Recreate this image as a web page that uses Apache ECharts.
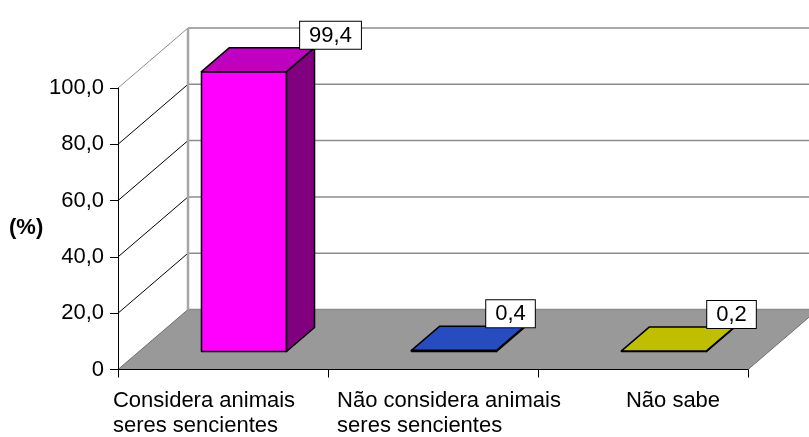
<!DOCTYPE html>
<html><head><meta charset="utf-8">
<script src="https://cdn.jsdelivr.net/npm/echarts@6/dist/echarts.min.js"></script>
<style>html,body{margin:0;padding:0;background:#fff}#c{width:809px;height:437px}</style>
</head><body><div id="c"></div>
<script>
// ---- data ----
const CATEGORIES = ['Considera animais\nseres sencientes', 'Não considera animais\nseres sencientes', 'Não sabe'];
const VALUES = [99.4, 0.4, 0.2];
const VALUE_LABELS = ['99,4', '0,4', '0,2'];
const Y_TICKS = [0, 20, 40, 60, 80, 100];
const Y_TICK_LABELS = ['0', '20,0', '40,0', '60,0', '80,0', '100,0'];
const Y_NAME = '(%)';

// ---- style ----
const FONT = "'Liberation Sans', Arial, sans-serif";
const FS = 22;
const BAR_COLORS = [
  ['#FF00FF', '#C000C0', '#800080'],
  ['#3366FF', '#264CBF', '#1A3380'],
  ['#FFFF00', '#BFBF00', '#808000']
];
const DX = 70, DY = 60;              // 3D depth offset of the floor
const DEPTH_FRONT = 0.3, DEPTH_BACK = 0.7;
const BAR_WIDTH = 0.405;
// per-label horizontal padding [left, right] used to nudge the category labels
const X_LABEL_PAD = [[0, 38], [32, 0], [60, 0]];
// horizontal nudge of each value label box relative to its bar's back corner
const VALUE_LABEL_NUDGE = [16, -14, -3];

const chart = echarts.init(document.getElementById('c'), null, {renderer: 'canvas'});

function renderFrame(params, api) {
  const cs = params.coordSys;
  const x0 = cs.x, x1 = cs.x + cs.width;
  const yOf = v => api.coord([0, v])[1];
  const y0 = yOf(Y_TICKS[0]);
  const yTop = yOf(Y_TICKS[Y_TICKS.length - 1]);
  const ch = [];
  ch.push({type: 'polygon', shape: {points: [[x0, y0], [x0 + DX, y0 - DY], [x1 + DX, y0 - DY], [x1, y0]]},
    style: {fill: '#999999', stroke: '#707070', lineWidth: 1}});
  Y_TICKS.forEach((v, k) => {
    const y = yOf(v);
    ch.push({type: 'line', shape: {x1: x0 + DX, y1: y - DY, x2: x1 + DX + 20, y2: y - DY},
      style: {stroke: '#8c8c8c', lineWidth: 1.5}});
    if (k > 0) {
      ch.push({type: 'line', shape: {x1: x0, y1: y, x2: x0 + DX, y2: y - DY},
        style: {stroke: k === Y_TICKS.length - 1 ? '#8c8c8c' : '#000', lineWidth: 1}});
    }
  });
  ch.push({type: 'line', shape: {x1: x0 + DX, y1: y0 - DY, x2: x0 + DX, y2: yTop - DY},
    style: {stroke: '#a6a6a6', lineWidth: 2.5}});
  return {type: 'group', children: ch};
}

function barGeom(api) {
  const i = api.value(0), v = api.value(1);
  const c = api.coord([i, 0]);
  const t = api.coord([i, v]);
  const band = api.size([1, 0])[0];
  const hw = band * BAR_WIDTH / 2;
  return {i, xl: c[0] - hw, xr: c[0] + hw, yb: c[1], yt: t[1],
    fx: DX * DEPTH_FRONT, fy: DY * DEPTH_FRONT, bx: DX * DEPTH_BACK, by: DY * DEPTH_BACK};
}

function renderBar(params, api) {
  const g = barGeom(api);
  const col = BAR_COLORS[g.i];
  const st = fill => ({fill, stroke: '#000', lineWidth: 1.5, lineJoin: 'round'});
  const {xl, xr, yb, yt, fx, fy, bx, by} = g;
  return {type: 'group', children: [
    {type: 'polygon', shape: {points: [[xl + fx, yt - fy], [xr + fx, yt - fy], [xr + fx, yb - fy], [xl + fx, yb - fy]]}, style: st(col[0])},
    {type: 'polygon', shape: {points: [[xr + fx, yt - fy], [xr + bx, yt - by], [xr + bx, yb - by], [xr + fx, yb - fy]]}, style: st(col[2])},
    {type: 'polygon', shape: {points: [[xl + fx, yt - fy], [xl + bx, yt - by], [xr + bx, yt - by], [xr + fx, yt - fy]]}, style: st(col[1])}
  ]};
}

function renderLabel(params, api) {
  const g = barGeom(api);
  return {type: 'text', x: g.xr + g.bx + VALUE_LABEL_NUDGE[g.i], y: g.yt - g.by + 1,
    style: {text: VALUE_LABELS[g.i], font: FS + 'px ' + FONT, fill: '#000', align: 'center', verticalAlign: 'bottom',
      backgroundColor: '#fff', borderColor: '#000', borderWidth: 1, padding: [3, 9, 2, 9]}};
}

const barData = VALUES.map((v, i) => [i, v]);

const xRich = {};
X_LABEL_PAD.forEach((p, i) => {
  xRich['c' + i] = {align: 'left', fontSize: FS, lineHeight: 25, fontFamily: FONT, color: '#000', padding: [0, p[1], 0, p[0]]};
});

chart.setOption({
  animation: false,
  backgroundColor: '#fff',
  grid: {left: 118, right: 61, top: 88, bottom: 65, containLabel: false},
  xAxis: {
    type: 'category', data: CATEGORIES, z: 10,
    axisLine: {lineStyle: {color: '#000', width: 1}},
    axisTick: {show: true, length: 8, lineStyle: {color: '#000'}},
    axisLabel: {
      interval: 0, margin: 19, color: '#000',
      formatter: (val, idx) => val.split('\n').map(l => '{c' + idx + '|' + l + '}').join('\n'),
      rich: xRich
    },
    splitLine: {show: false}
  },
  yAxis: {
    type: 'value', min: Y_TICKS[0], max: Y_TICKS[Y_TICKS.length - 1], interval: Y_TICKS[1] - Y_TICKS[0], z: 10,
    axisLine: {show: true, lineStyle: {color: '#000', width: 1}},
    axisTick: {show: true, length: 8, lineStyle: {color: '#000'}},
    axisLabel: {margin: 14, fontSize: FS, fontFamily: FONT, color: '#000',
      formatter: v => Y_TICK_LABELS[Y_TICKS.indexOf(v)]},
    splitLine: {show: false}
  },
  graphic: [{type: 'text', left: 9, top: 217,
    style: {text: Y_NAME, font: 'bold ' + FS + 'px ' + FONT, fill: '#000'}}],
  series: [
    {type: 'custom', z: 1, clip: false, data: [[0, 0]], renderItem: renderFrame, silent: true},
    {type: 'custom', z: 3, clip: false, data: barData, encode: {x: 0, y: 1}, renderItem: renderBar},
    {type: 'custom', z: 5, clip: false, data: barData, encode: {x: 0, y: 1}, renderItem: renderLabel}
  ]
});
</script></body></html>
